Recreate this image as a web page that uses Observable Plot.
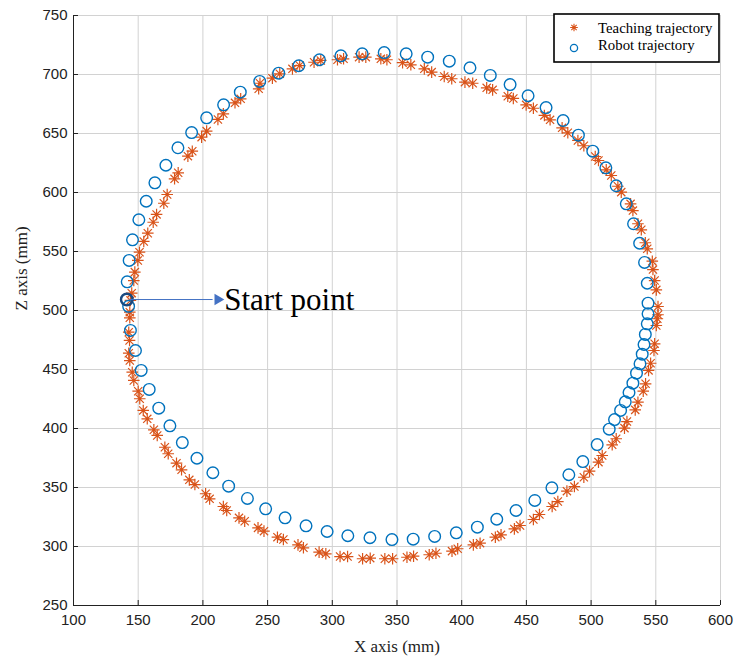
<!DOCTYPE html>
<html>
<head>
<meta charset="utf-8">
<script src="https://cdn.jsdelivr.net/npm/d3@7"></script>
<script src="https://cdn.jsdelivr.net/npm/@observablehq/plot@0.6"></script>
<style>
  html, body { margin: 0; padding: 0; background: #fff; }
  #chart { width: 734px; height: 666px; }
</style>
</head>
<body>
<div id="chart"></div>
<script>
// ---- Data (mm) ----
const xTicks = [100, 150, 200, 250, 300, 350, 400, 450, 500, 550, 600];
const zTicks = [250, 300, 350, 400, 450, 500, 550, 600, 650, 700, 750];

const teachX = [162.1,164.7,170.6,173.2,179.6,183.5,189.5,193.8,202.1,205.2,215.8,218.4,227.9,232.3,242.6,247.2,257.6,262.2,273.5,277.7,289.8,295.0,306.0,311.8,323.4,329.3,340.6,346.6,357.7,362.8,374.9,380.1,392.5,396.9,409.0,414.2,426.0,430.4,440.7,445.1,455.4,460.1,469.9,474.3,481.3,487.1,494.4,498.8,505.7,508.6,516.3,519.4,525.8,527.7,534.1,536.2,540.3,542.1,544.4,546.0,548.6,549.1,550.4,551.2,551.7,551.7,550.4,549.1,547.8,547.3,543.4,541.9,538.8,536.2,532.3,530.5,523.3,520.7,515.6,511.7,505.7,503.2,494.4,489.8,482.0,477.6,468.3,463.9,455.4,449.8,439.9,435.6,423.9,419.3,408.5,402.5,392.3,386.5,376.8,371.1,360.7,354.3,342.2,337.5,325.9,320.7,308.7,304.0,291.1,285.9,274.8,269.2,259.4,253.7,244.1,243.1,229.2,224.8,215.8,211.6,202.9,199.0,191.8,188.4,180.9,178.1,172.4,169.8,164.2,161.6,157.4,154.3,151.0,149.7,147.4,146.6,145.0,144.0,143.5,143.5,142.7,143.3,142.7,143.5,145.4,146.6,150.0,151.2,153.9,157.0];
const teachZ = [398.9,394.1,384.1,378.6,370.6,365.0,356.5,352.5,344.7,340.4,333.9,330.5,324.3,321.4,315.8,313.0,307.9,305.9,301.4,298.9,295.2,293.8,291.5,291.5,289.6,290.1,289.6,289.6,290.9,291.8,293.0,294.3,296.1,298.1,301.4,302.8,307.9,309.9,314.9,317.8,322.9,327.1,333.9,338.1,346.9,350.8,358.7,363.8,371.5,377.1,386.2,391.3,400.3,405.9,415.8,422.3,431.6,437.9,449.2,455.3,466.1,471.8,487.3,493.0,496.4,503.4,517.5,525.4,534.7,541.8,552.3,557.4,568.4,573.5,584.7,590.4,600.3,605.3,614.4,619.2,627.1,630.5,639.6,644.1,650.6,654.8,661.6,665.3,671.4,674.3,679.7,681.6,687.0,688.7,692.6,693.5,696.4,698.3,702.0,704.8,708.2,710.0,712.5,713.3,714.7,714.7,713.3,712.5,711.9,710.4,707.6,704.8,700.6,696.9,692.6,687.9,679.4,676.0,666.7,661.9,652.0,646.9,635.0,630.8,616.7,611.6,598.3,590.9,581.4,574.8,565.5,558.5,549.4,542.4,532.5,525.4,514.7,508.5,498.6,493.8,481.6,474.6,463.8,457.6,447.7,440.7,431.6,425.2,415.3,408.2];

const robotX = [141.2,142.6,144.0,147.9,152.3,158.5,165.9,174.5,184.1,195.4,207.7,219.9,234.4,248.5,263.5,279.7,296.0,312.0,329.1,346.1,362.5,379.1,395.8,412.1,427.1,442.0,456.5,469.7,482.8,493.6,504.7,514.0,518.1,522.8,526.4,529.3,532.3,535.1,537.8,539.5,540.9,541.9,543.4,544.0,544.0,543.4,541.3,537.5,532.8,527.2,519.4,511.4,501.3,490.2,478.4,465.2,451.3,437.4,422.1,406.4,390.4,373.7,357.1,340.1,323.1,306.6,290.1,274.1,258.6,243.9,228.9,216.0,202.9,191.3,180.7,171.4,162.9,156.2,150.5,145.6,143.0,141.5];
const robotZ = [509.3,503.5,483.1,466.1,449.2,433.1,417.2,402.3,388.1,374.8,362.5,351.1,340.7,331.9,324.3,317.5,312.7,309.1,307.4,305.9,306.2,308.5,311.6,316.4,323.1,330.5,339.0,349.7,360.8,372.0,386.4,399.4,407.6,415.3,422.6,430.5,438.4,446.9,454.8,463.0,471.2,479.7,488.7,497.2,506.2,523.1,540.7,557.0,573.5,590.4,605.7,620.9,635.0,648.6,661.0,672.0,682.0,691.5,699.2,705.7,711.3,714.7,717.5,718.6,717.5,715.8,712.5,707.4,701.1,694.1,685.0,674.3,663.3,650.8,637.9,623.1,608.2,592.6,576.9,559.9,542.4,524.3];

const seriesNames = ["Teaching trajectory", "Robot trajectory"];
const startPoint = {x: 141.2, z: 509.3};
const arrowTip = {x: 211.5, z: 509.3};
const annotationText = "Start point";

// ---- Build ----
const RED = "#D95319", BLUE = "#0072BD";
const SERIF = "Liberation Serif, Times New Roman, serif";
const teach = teachX.map((x, i) => ({x, z: teachZ[i]}));
const robot = robotX.map((x, i) => ({x, z: robotZ[i]}));

const asterisk8 = {
  draw(ctx, size) {
    const r = Math.sqrt(size / Math.PI);
    for (let k = 0; k < 4; k++) {
      const a = k * Math.PI / 4;
      const dx = r * Math.cos(a), dy = r * Math.sin(a);
      ctx.moveTo(-dx, -dy); ctx.lineTo(dx, dy);
    }
  }
};

const chart = Plot.plot({
  width: 734, height: 666,
  marginLeft: 73, marginRight: 14, marginTop: 15, marginBottom: 61,
  x: {domain: [100, 600]},
  y: {domain: [250, 750]},
  style: {fontFamily: "Liberation Sans, Arial, sans-serif", fontSize: "15px", background: "#fff", color: "#222"},
  marks: [
    Plot.gridX(xTicks, {stroke: "#d2d2d2", strokeOpacity: 1, strokeWidth: 1}),
    Plot.gridY(zTicks, {stroke: "#d2d2d2", strokeOpacity: 1, strokeWidth: 1}),
    Plot.axisX(xTicks, {tickSize: -5, tickPadding: 14, label: null, stroke: "#222"}),
    Plot.axisY(zTicks, {tickSize: -5, tickPadding: 11, label: null, stroke: "#222"}),
    Plot.ruleY([250], {stroke: "#222", strokeWidth: 1}),
    Plot.ruleX([100], {stroke: "#222", strokeWidth: 1}),
    Plot.dot(teach, {x: "x", y: "z", symbol: asterisk8, r: 5.8, stroke: RED, strokeWidth: 1.2, fill: "none"}),
    Plot.dot(robot, {x: "x", y: "z", symbol: "circle", r: 5.8, stroke: BLUE, strokeWidth: 1.4, fill: "none"}),
    Plot.dot([startPoint], {x: "x", y: "z", r: 5.8, stroke: "#1a4a80", strokeWidth: 2.4, fill: "none"}),
    Plot.link([{x1: startPoint.x + 2, x2: arrowTip.x - 4, z: startPoint.z}], {x1: "x1", x2: "x2", y1: "z", y2: "z", stroke: "#4472C4", strokeWidth: 1}),
    Plot.dot([arrowTip], {x: "x", y: "z", symbol: "triangle", r: 4.2, fill: "#4472C4", stroke: "none", rotate: 90}),
    Plot.text([annotationText], {x: arrowTip.x + 5, y: arrowTip.z, text: d => d, textAnchor: "start", fontFamily: SERIF, fontSize: 31, fill: "#000", dy: 1}),
    Plot.text(["X axis (mm)"], {frameAnchor: "bottom", dy: 46, text: d => d, fontFamily: SERIF, fontSize: 17, fill: "#222"}),
    Plot.text(["Z axis (mm)"], {frameAnchor: "left", dx: -52, rotate: -90, text: d => d, fontFamily: SERIF, fontSize: 17, fill: "#222"})
  ]
});

// Legend inside the plot area (top-right)
const svg = d3.select(chart);
const lg = svg.append("g").attr("transform", "translate(554,14)");
lg.append("rect").attr("width", 165).attr("height", 48).attr("fill", "#fff").attr("stroke", "#000").attr("stroke-width", 1.6);
const rowsY = [13.5, 31];
lg.append("path").attr("transform", `translate(20,${rowsY[0]})`)
  .attr("d", d3.symbol(asterisk8, Math.PI * 3.8 * 3.8)()).attr("stroke", RED).attr("stroke-width", 1.1).attr("fill", "none");
lg.append("circle").attr("cx", 20).attr("cy", rowsY[1] + 3).attr("r", 3.6).attr("fill", "none").attr("stroke", BLUE).attr("stroke-width", 1.3);
seriesNames.forEach((name, i) => {
  lg.append("text").attr("x", 44).attr("y", rowsY[i]).attr("dy", "0.35em")
    .attr("text-anchor", "start")
    .attr("font-family", SERIF).attr("font-size", 14.8).attr("fill", "#000").text(name);
});

document.getElementById("chart").appendChild(chart);
</script>
</body>
</html>
